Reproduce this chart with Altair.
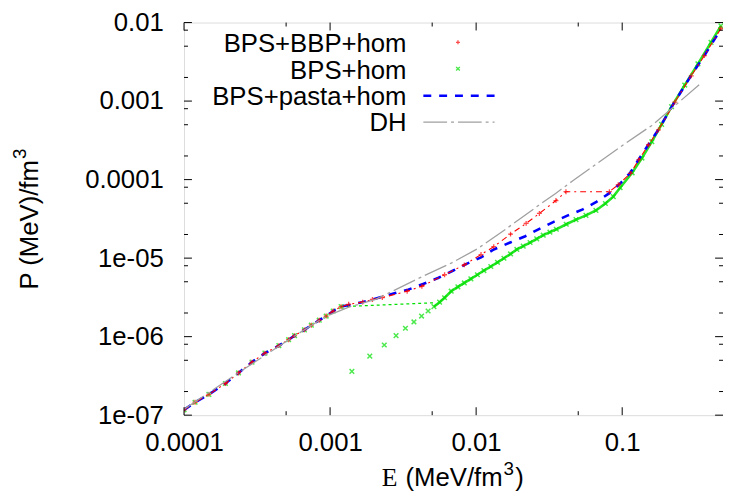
import altair as alt
import pandas as pd

# ---------------- data ----------------
# BPS outer crust, shared by the three BPS-based EOS
CRUST_E = [1.00e-4, 1.19e-4, 1.48e-4, 1.92e-4, 2.36e-4, 2.92e-4, 3.58e-4, 4.46e-4,
           5.20e-4, 5.71e-4, 6.67e-4, 7.44e-4, 8.43e-4, 9.40e-4, 1.05e-3, 1.19e-3]
CRUST_P = [1.17e-7, 1.46e-7, 1.84e-7, 2.53e-7, 3.45e-7, 4.74e-7, 6.17e-7, 7.68e-7,
           9.14e-7, 1.03e-6, 1.22e-6, 1.40e-6, 1.62e-6, 1.83e-6, 2.12e-6, 2.41e-6]

# BPS+BBP+hom beyond the outer crust
BBP_E = [1.34e-3, 1.67e-3, 1.95e-3, 2.28e-3, 3.37e-3, 4.25e-3, 6.08e-3, 8.30e-3,
         1.08e-2, 1.32e-2, 1.72e-2, 2.20e-2, 2.71e-2, 3.52e-2, 4.12e-2, 8.17e-2,
         9.40e-2, 0.1139, 0.1297, 0.1514, 0.1771, 0.2291, 0.2972, 0.3654, 0.4742]
BBP_P = [2.58e-6, 2.75e-6, 2.98e-6, 3.15e-6, 3.79e-6, 4.38e-6, 6.14e-6, 8.21e-6,
         1.11e-5, 1.40e-5, 2.02e-5, 2.77e-5, 3.71e-5, 5.41e-5, 7.02e-5, 7.02e-5,
         8.60e-5, 1.20e-4, 1.78e-4, 2.78e-4, 4.30e-4, 9.70e-4, 2.10e-3, 3.80e-3, 8.40e-3]

# BPS+hom: homogeneous-matter branch
HOM_E = [1.41e-3, 1.87e-3, 2.35e-3, 2.83e-3, 3.28e-3, 3.75e-3, 4.23e-3, 4.69e-3,
         5.14e-3, 5.62e-3, 6.08e-3, 6.75e-3, 7.50e-3, 8.30e-3, 9.20e-3, 1.02e-2,
         1.13e-2, 1.26e-2, 1.40e-2, 1.55e-2, 1.72e-2, 1.90e-2, 2.10e-2, 2.34e-2,
         2.60e-2, 2.88e-2, 3.20e-2, 3.54e-2, 4.14e-2, 4.83e-2, 5.65e-2, 6.61e-2,
         7.67e-2, 8.69e-2, 9.68e-2, 0.117, 0.1365, 0.1596, 0.1862, 0.2178,
         0.268, 0.330, 0.4055, 0.474]
HOM_P = [3.61e-7, 5.65e-7, 7.83e-7, 1.03e-6, 1.28e-6, 1.54e-6, 1.83e-6, 2.12e-6,
         2.41e-6, 2.75e-6, 3.13e-6, 3.79e-6, 4.30e-6, 4.83e-6, 5.45e-6, 6.14e-6,
         6.95e-6, 7.82e-6, 8.85e-6, 9.97e-6, 1.13e-5, 1.29e-5, 1.42e-5, 1.58e-5,
         1.76e-5, 1.96e-5, 2.14e-5, 2.33e-5, 2.70e-5, 3.09e-5, 3.50e-5, 4.05e-5,
         4.96e-5, 6.07e-5, 7.89e-5, 1.22e-4, 1.88e-4, 3.04e-4, 5.05e-4, 8.49e-4,
         1.60e-3, 2.98e-3, 5.60e-3, 9.08e-3]
# first index of the dense (band-like) part of the homogeneous branch
HOM_DENSE_FROM = 8
# BPS+hom: connection between the crust and the homogeneous branch
LINK_E = [1.19e-3, 5.20e-3]
LINK_P = [2.41e-6, 2.70e-6]

# BPS+pasta+hom beyond the outer crust
PASTA_E = [1.66e-3, 2.15e-3, 2.72e-3, 3.43e-3, 4.34e-3, 5.48e-3, 6.92e-3, 8.51e-3,
           1.08e-2, 1.32e-2, 1.71e-2, 2.17e-2, 2.67e-2, 3.37e-2, 4.25e-2, 5.37e-2,
           6.61e-2, 8.13e-2, 9.75e-2, 0.1139, 0.1297, 0.1514, 0.1771, 0.2291,
           0.2972, 0.3654, 0.4742]
PASTA_P = [2.75e-6, 3.13e-6, 3.54e-6, 3.97e-6, 4.69e-6, 5.58e-6, 6.90e-6, 8.38e-6,
           1.02e-5, 1.29e-5, 1.58e-5, 1.90e-5, 2.33e-5, 2.88e-5, 3.50e-5, 4.17e-5,
           5.15e-5, 6.68e-5, 9.03e-5, 1.23e-4, 1.81e-4, 2.80e-4, 4.33e-4, 9.82e-4,
           2.13e-3, 3.81e-3, 8.24e-3]

# DH
DH_E = [1.00e-4, 2.36e-4, 5.71e-4, 9.40e-4, 1.33e-3, 2.05e-3, 3.99e-3, 6.80e-3,
        1.017e-2, 1.60e-2, 2.67e-2, 3.52e-2, 4.59e-2, 0.1026, 0.1596, 0.3365]
DH_P = [1.19e-7, 3.48e-7, 1.02e-6, 1.82e-6, 2.36e-6, 2.98e-6, 5.47e-6, 8.70e-6,
        1.31e-5, 2.35e-5, 4.68e-5, 6.72e-5, 9.66e-5, 2.80e-4, 4.90e-4, 1.61e-3]

LEGEND = ["BPS+BBP+hom", "BPS+hom", "BPS+pasta+hom", "DH"]
X_MAJOR = [1e-4, 1e-3, 1e-2, 1e-1]
X_MINOR = [5e-4, 5e-3, 5e-2]
Y_MAJOR = [1e-7, 1e-6, 1e-5, 1e-4, 1e-3, 1e-2]
Y_MINOR = [m * 10.0 ** k for k in range(-7, -2) for m in (2, 5, 8)]

# axis titles (text pieces: symbol, unit, superscript, closing)
XT_SYMBOL, XT_UNIT, XT_SUP, XT_CLOSE = "E", "(MeV/fm", "3", ")"
YT_MAIN, YT_SUP = "P (MeV)/fm", "3"

# ---------------- frames ----------------
def frame(E, P):
    return pd.DataFrame({"E": E, "P": P, "i": list(range(len(E)))})

red_df = frame(CRUST_E + BBP_E, CRUST_P + BBP_P)
green_df = frame(CRUST_E + HOM_E, CRUST_P + HOM_P)
band_df = frame(HOM_E[HOM_DENSE_FROM:], HOM_P[HOM_DENSE_FROM:])
link_df = frame(LINK_E, LINK_P)
blue_df = frame(CRUST_E + PASTA_E, CRUST_P + PASTA_P)
dh_df = frame(DH_E, DH_P)

FONT = "Liberation Sans"
SERIF = "Liberation Serif"
W, H = 545, 397
RED, GREEN, BLUE, GRAY = "#ff0000", "#00e000", "#0000ff", "#a0a0a0"

xs = alt.Scale(type="log", domain=[1e-4, 0.49], nice=False)
ys = alt.Scale(type="log", domain=[1e-7, 1e-2], nice=False)

xaxis = alt.Axis(values=X_MAJOR, labelExpr="format(datum.value, '~g')",
                 ticks=False, tickSize=0, domain=False, grid=False,
                 labelFont=FONT, labelFontSize=26, labelColor="black",
                 labelPadding=36, labelBaseline="alphabetic", labelFlush=False,
                 labelOverlap=False, title="")
yaxis = alt.Axis(values=Y_MAJOR,
                 labelExpr="datum.value < 5e-5 ? replace(format(datum.value, '.0e'), 'e-', 'e-0') : format(datum.value, '~g')",
                 ticks=False, tickSize=0, domain=False, grid=False,
                 labelFont=FONT, labelFontSize=26, labelColor="black",
                 labelPadding=21, labelFlush=False, labelOverlap=False, title="")

X = lambda: alt.X("E:Q", scale=xs, axis=xaxis)
Y = lambda: alt.Y("P:Q", scale=ys, axis=yaxis)

layers = []

# BPS+hom: dense marker band + points
layers.append(alt.Chart(band_df).mark_line(color=GREEN, strokeWidth=2.6, opacity=0.85, clip=True)
              .encode(x=X(), y=Y(), order="i:Q"))
layers.append(alt.Chart(green_df).mark_point(shape="M-1,-1L1,1M-1,1L1,-1", filled=False,
                                              color=GREEN, size=22, strokeWidth=1.5, clip=True)
              .encode(x=X(), y=Y()))
layers.append(alt.Chart(link_df).mark_line(color=GREEN, strokeWidth=1.2, strokeDash=[3, 3], clip=True)
              .encode(x=X(), y=Y()))
# BPS+pasta+hom
layers.append(alt.Chart(blue_df).mark_line(color=BLUE, strokeWidth=2.6, strokeDash=[8, 8], clip=True)
              .encode(x=X(), y=Y(), order="i:Q"))
# BPS+BBP+hom
layers.append(alt.Chart(red_df).mark_line(color=RED, strokeWidth=1.1, strokeDash=[6, 4, 2, 4], clip=True)
              .encode(x=X(), y=Y(), order="i:Q"))
layers.append(alt.Chart(red_df).mark_point(shape="M-1,0L1,0M0,-1L0,1", filled=False,
                                            color=RED, size=25, strokeWidth=1.3, clip=True)
              .encode(x=X(), y=Y()))
# DH
layers.append(alt.Chart(dh_df).mark_line(color=GRAY, strokeWidth=1.3, strokeDash=[24, 4, 3, 4], clip=True)
              .encode(x=X(), y=Y(), order="i:Q"))

# inward ticks on all four sides
xmaj = pd.DataFrame({"E": X_MAJOR})
xmin = pd.DataFrame({"E": X_MINOR})
ymaj = pd.DataFrame({"P": Y_MAJOR})
ymin = pd.DataFrame({"P": Y_MINOR})
for df, L in ((xmaj, 8), (xmin, 4)):
    for y0, y1 in ((H, H - L), (0, L)):
        layers.append(alt.Chart(df).mark_rule(color="black", strokeWidth=1)
                      .encode(x=X(), y=alt.value(y0), y2=alt.value(y1)))
for df, L in ((ymaj, 8), (ymin, 4)):
    for x0, x1 in ((0, L), (W, W - L)):
        layers.append(alt.Chart(df).mark_rule(color="black", strokeWidth=1)
                      .encode(y=Y(), x=alt.value(x0), x2=alt.value(x1)))

one = pd.DataFrame({"k": [0]})

def txt(s, x, y, font=FONT, size=26, angle=0, align="left"):
    return (alt.Chart(one).mark_text(align=align, baseline="alphabetic", font=font,
                                     fontSize=size, color="black", angle=angle)
            .encode(x=alt.value(x), y=alt.value(y), text=alt.value(s)))

# axis titles
TY = 469
layers.append(txt(XT_SYMBOL, 200, TY, font=SERIF))
layers.append(txt(XT_UNIT, 224, TY))
layers.append(txt(XT_SUP, 323, TY - 12, size=19))
layers.append(txt(XT_CLOSE, 335, TY))
layers.append(txt(YT_MAIN, -148, 270, angle=270))
layers.append(txt(YT_SUP, -160, 138, size=19, angle=270))

# legend (gnuplot style: label left of the sample)
LEG_X_TEXT = 225
LEG_ROWS = [30, 56.7, 83.4, 110.1]
for lab, yb in zip(LEGEND, LEG_ROWS):
    layers.append(txt(lab, LEG_X_TEXT, yb, align="right"))
layers.append(alt.Chart(one).mark_point(shape="M-1,0L1,0M0,-1L0,1", filled=False, color=RED,
                                        size=16, strokeWidth=1.3)
              .encode(x=alt.value(277), y=alt.value(20)))
layers.append(alt.Chart(one).mark_point(shape="M-1,-1L1,1M-1,1L1,-1", filled=False, color=GREEN,
                                        size=14, strokeWidth=1.4)
              .encode(x=alt.value(277), y=alt.value(46.7)))
layers.append(alt.Chart(one).mark_rule(color=BLUE, strokeWidth=2.6, strokeDash=[8, 8])
              .encode(x=alt.value(242), x2=alt.value(314), y=alt.value(74)))
layers.append(alt.Chart(one).mark_rule(color=GRAY, strokeWidth=1.3, strokeDash=[24, 4, 3, 4])
              .encode(x=alt.value(242), x2=alt.value(314), y=alt.value(100.7)))

chart = (alt.layer(*layers)
         .properties(width=W, height=H,
                     padding={"left": 178, "top": 12, "right": 0, "bottom": 78},
                     autosize=alt.AutoSizeParams(type="none"))
         .configure_view(stroke="black", strokeWidth=1.2)
         .configure(background="white"))

chart.save("out.html", embed_options={"renderer": "svg", "actions": False})
